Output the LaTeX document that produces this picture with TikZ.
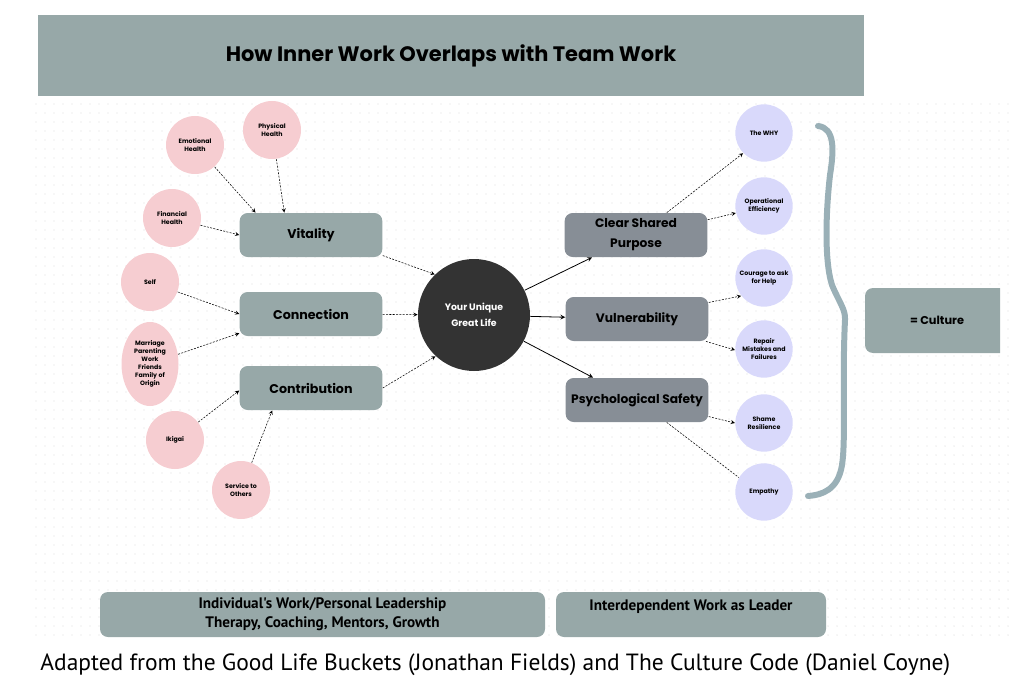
\documentclass[tikz,border=0pt]{standalone}
\usepackage{fontspec}
\setmainfont{Poppins}
\newfontfamily\capfont{PT Sans}
\usetikzlibrary{shapes.geometric}

\definecolor{barteal}{HTML}{97A8A8}
\definecolor{teamgray}{HTML}{878E96}
\definecolor{lifedark}{HTML}{333333}
\definecolor{bucketpink}{HTML}{F6CDD1}
\definecolor{codeviolet}{HTML}{D9D9FB}
\definecolor{bracegray}{HTML}{9AB0B7}
\definecolor{dotgray}{HTML}{DDDDDD}

\begin{document}
\begin{tikzpicture}[x=0.75pt,y=-0.75pt,>=stealth,semithick]
\tikzstyle{bucket}=[circle,fill=bucketpink,minimum size=43.5pt,inner sep=0pt,align=center,font=\fontsize{4.7}{6}\selectfont\bfseries]
\tikzstyle{code}=[circle,fill=codeviolet,minimum size=43pt,inner sep=0pt,align=center,font=\fontsize{4.7}{6}\selectfont\bfseries]
\tikzstyle{inner}=[rectangle,rounded corners=6pt,fill=barteal,minimum width=107pt,minimum height=33pt,font=\fontsize{9.5}{11}\selectfont\bfseries]
\tikzstyle{team}=[inner,fill=teamgray,align=center,font=\fontsize{9.2}{15}\selectfont\bfseries]
\tikzstyle{feed}=[->,thin,dash pattern=on 1.5pt off 1pt]
\tikzstyle{bar}=[rectangle,rounded corners=6pt,fill=barteal,minimum height=33.75pt,align=center,font=\capfont\bfseries\fontsize{11.4}{14.5}\selectfont]

\useasboundingbox (0,0) rectangle (1024,688);

% dotted paper
\foreach \y in {104,113,...,640}
  \draw[dotgray,line width=1.1pt,line cap=round,dash pattern=on 0pt off 6.75pt] (36,\y) -- (1010,\y);

% title
\node[fill=barteal,minimum width=619.5pt,minimum height=60.75pt,font=\fontsize{15.7}{18}\selectfont\bfseries] (title) at (451,55.5) {How Inner Work Overlaps with Team Work};

% good life buckets
\node[bucket] (emo) at (195,145) {Emotional\\Health};
\node[bucket] (phys) at (272,130) {Physical\\Health};
\node[bucket] (fin) at (172,218) {Financial\\Health};
\node[bucket] (self) at (150,282) {Self};
\node[bucket,ellipse,minimum width=42.75pt,minimum height=63pt] (rel) at (150,364) {Marriage\\Parenting\\Work\\Friends\\Family of\\Origin};
\node[bucket] (iki) at (175,440) {Ikigai};
\node[bucket] (serv) at (241,490) {Service to\\Others};

\node[inner] (vit) at (311,235) {Vitality};
\node[inner] (con) at (311,314) {Connection};
\node[inner] (contr) at (311,388) {Contribution};

\node[circle,fill=lifedark,text=white,minimum size=84pt,align=center,font=\fontsize{7}{12}\selectfont\bfseries] (life) at (474,315) {Your Unique\\Great Life};

% culture code
\node[team] (csp) at (636,235) {Clear Shared\\Purpose};
\node[team] (vul) at (637,319) {Vulnerability};
\node[team] (ps) at (637,400) {Psychological Safety};

\node[code] (why) at (764,133) {The WHY};
\node[code] (op) at (764,206) {Operational\\Efficiency};
\node[code] (cour) at (764,278) {Courage to ask\\for Help};
\node[code] (rep) at (764,349) {Repair\\Mistakes and\\Failures};
\node[code] (sham) at (764,423) {Shame\\Resilience};
\node[code] (emp) at (764,492) {Empathy};

\path
(emo) edge[feed] (vit.158)
(phys) edge[feed] (vit.140)
(fin) edge[feed] (vit.west)
(self) edge[feed] (con.west)
(rel) edge[feed] (con.195)
(iki) edge[feed] (contr.182)
(serv) edge[feed] (contr.210)
(vit.-16) edge[feed] (life.134)
(con) edge[feed] (life)
(contr.east) edge[feed] (life.227)
(life) edge[->] (csp.207)
(life) edge[->] (vul)
(life) edge[->] (ps.153)
(csp.36) edge[feed] (why.224)
(csp.12) edge[feed] (op.194)
(vul.13) edge[feed] (cour.218)
(vul.-18) edge[feed] (rep.182)
(ps.-13) edge[feed] (sham.west)
(ps.-37) edge[feed,-] (emp.150);

% brace
\draw[bracegray,line width=4.5pt,line cap=round]
  (818,126) .. controls (835,128) and (834,150) .. (830,175)
  .. controls (826,210) and (824,260) .. (832,285)
  .. controls (838,300) and (846,310) .. (845,320)
  .. controls (842,380) and (846,440) .. (842,465)
  .. controls (838,490) and (822,495) .. (808,496);

\fill[barteal] (1000,288) [rounded corners=6pt] -- (865,288) -- (865,353) [sharp corners] -- (1000,353) -- cycle;
\node[font=\fontsize{8.5}{10}\selectfont\bfseries] (cult) at (937,320) {= Culture};

% bottom bars
\node[bar,minimum width=333.75pt] (indiv) at (322.5,614.5) {Individual's Work/Personal Leadership\\Therapy, Coaching, Mentors, Growth};
\node[bar,minimum width=202.5pt] (inter) at (691,614.5) {Interdependent Work as Leader\\\mbox{}};

\node[anchor=west,inner sep=0pt,font=\capfont\fontsize{17.6}{20}\selectfont] (src) at (40,665) {Adapted from the Good Life Buckets (Jonathan Fields) and The Culture Code (Daniel Coyne)};
\end{tikzpicture}
\end{document}
